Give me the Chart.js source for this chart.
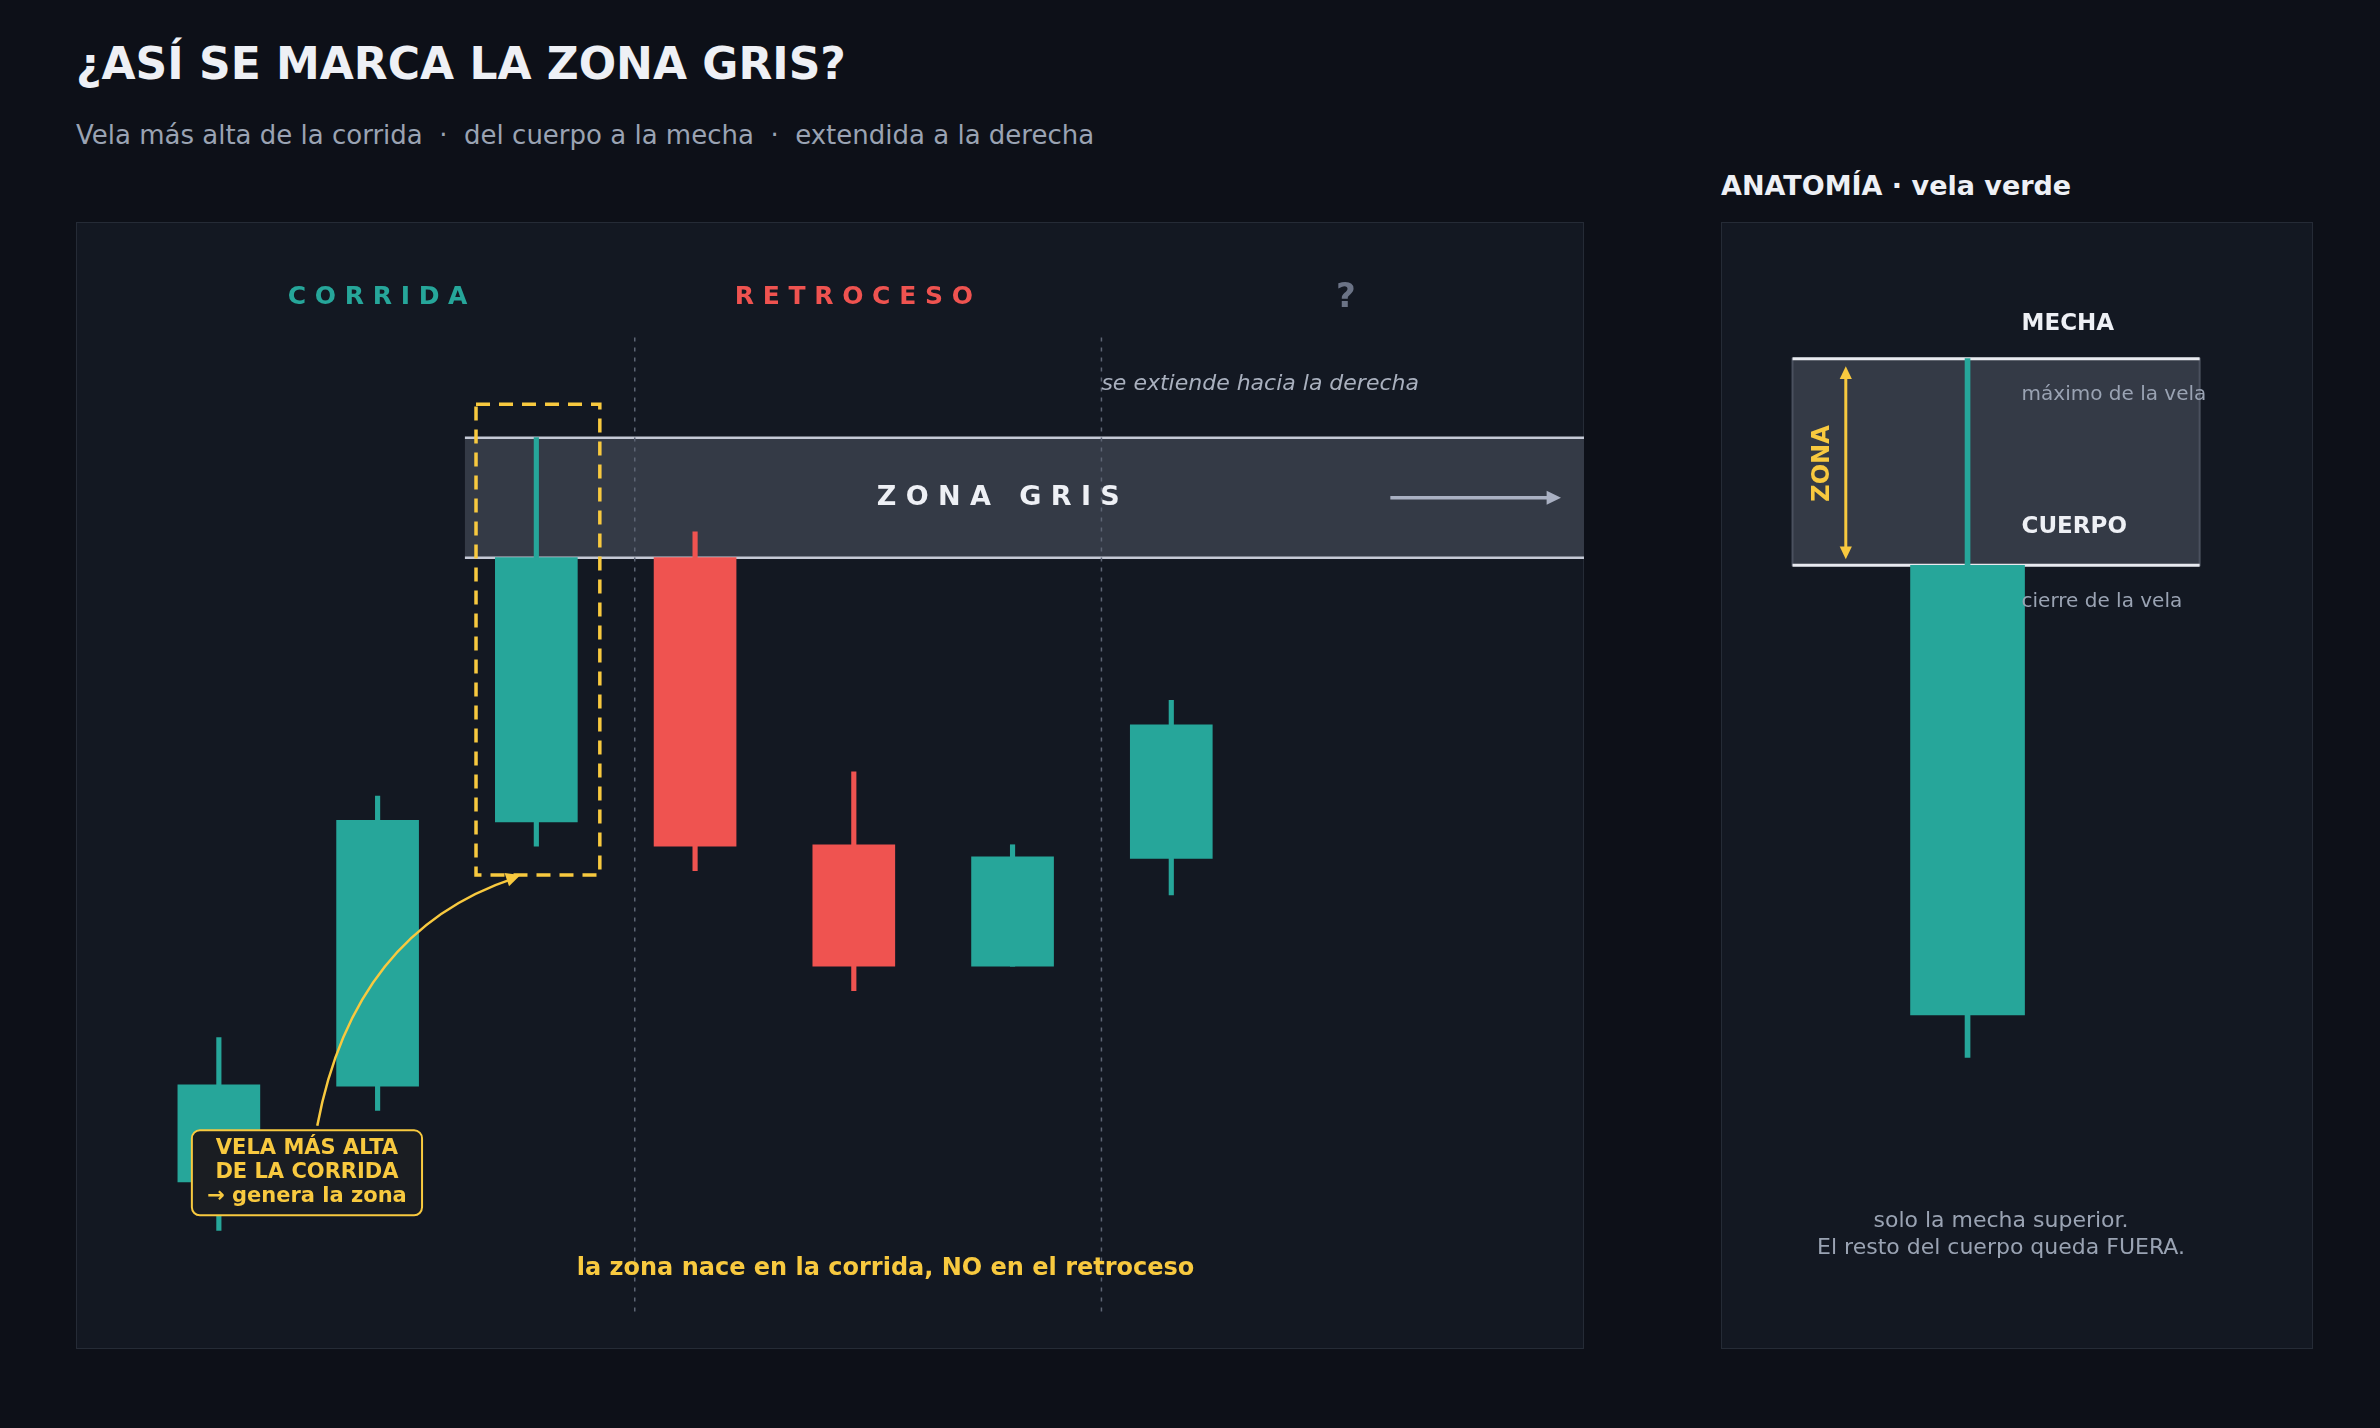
<!DOCTYPE html>
<html><head><meta charset="utf-8">
<script src="https://cdn.jsdelivr.net/npm/chart.js@4"></script>
<style>
  body{margin:0;background:#0d1018;width:2380px;height:1428px;overflow:hidden;font-family:"DejaVu Sans",sans-serif;position:relative}
  .t{position:absolute;white-space:nowrap}
  .panel{position:absolute;background:#131822;border:1.5px solid #252b36;box-sizing:border-box}
  canvas{position:absolute}
</style></head>
<body>
<div class="t" style="left:76px;top:38px;font-size:44px;font-weight:bold;color:#eef0f5">¿ASÍ SE MARCA LA ZONA GRIS?</div>
<div class="t" style="left:76px;top:120px;font-size:26px;color:#9aa3b3">Vela más alta de la corrida &nbsp;·&nbsp; del cuerpo a la mecha &nbsp;·&nbsp; extendida a la derecha</div>
<div class="t" style="left:1721px;top:170px;font-size:27px;font-weight:bold;color:#eef0f5">ANATOMÍA · vela verde</div>
<div class="panel" style="left:76px;top:222px;width:1508px;height:1127px"></div>
<div class="panel" style="left:1721px;top:222px;width:592px;height:1127px"></div>
<canvas id="main" width="1508" height="1127" style="left:76px;top:222px"></canvas>
<canvas id="anat" width="592" height="1127" style="left:1721px;top:222px"></canvas>
<script>
// =========================
// DATA
// =========================
const velas = [0, 1, 2, 3, 4, 5, 6];
const aperturas = [11.0, 17.3, 34.7, 52.1, 33.2, 25.2, 32.3];
const cierres   = [17.4, 34.8, 52.1, 33.1, 25.2, 32.4, 41.1];
const maximos   = [20.5, 36.4, 60.0, 53.8, 38.0, 33.2, 42.7];
const minimos   = [ 7.8, 15.7, 33.1, 31.5, 23.6, 25.2, 29.9];
const zonaGris = [52.1, 60.0];   // cuerpo -> mecha de la vela más alta
const idxAlta = 2;

// vela de anatomía
const anatVela = { x: 0, o: 22.0, c: 51.6, h: 65.2, l: 19.2 };

const TEAL = '#26a69a', RED = '#ef5350', YEL = '#f8c93f';
const colores = cierres.map((c, i) => c >= aperturas[i] ? TEAL : RED);

function arrowHead(ctx, x, y, ang, s) {
  ctx.beginPath();
  ctx.moveTo(x, y);
  ctx.lineTo(x - s * Math.cos(ang - 0.45), y - s * Math.sin(ang - 0.45));
  ctx.lineTo(x - s * Math.cos(ang + 0.45), y - s * Math.sin(ang + 0.45));
  ctx.closePath(); ctx.fill();
}
function txt(ctx, s, x, y, font, color, align) {
  ctx.font = font; ctx.fillStyle = color; ctx.textAlign = align || 'center'; ctx.textBaseline = 'middle';
  ctx.fillText(s, x, y);
}

// =========================
// Plugin: zona + anotaciones
// =========================
const mainDeco = {
  id: 'mainDeco',
  beforeDatasetsDraw(chart) {
    const { ctx, scales: { x, y } } = chart;
    const L = x.getPixelForValue(idxAlta - 0.45), R = x.right;
    const T = y.getPixelForValue(zonaGris[1]), B = y.getPixelForValue(zonaGris[0]);
    ctx.save();
    ctx.fillStyle = '#343a46'; ctx.fillRect(L, T, R - L, B - T);
    ctx.strokeStyle = '#c5c9d6'; ctx.lineWidth = 2.5;
    ctx.beginPath(); ctx.moveTo(L, T); ctx.lineTo(R, T); ctx.moveTo(L, B); ctx.lineTo(R, B); ctx.stroke();
    // separadores
    ctx.strokeStyle = '#5d6474'; ctx.lineWidth = 1.5; ctx.setLineDash([4, 6]);
    [2.62, 5.56].forEach(v => {
      const px = x.getPixelForValue(v);
      ctx.beginPath(); ctx.moveTo(px, y.getPixelForValue(66.6)); ctx.lineTo(px, y.getPixelForValue(2.1)); ctx.stroke();
    });
    ctx.restore();
  },
  afterDatasetsDraw(chart) {
    const { ctx, scales: { x, y } } = chart;
    ctx.save();
    // caja discontinua
    const bl = x.getPixelForValue(idxAlta - 0.38), br = x.getPixelForValue(idxAlta + 0.4);
    const bt = y.getPixelForValue(62.2), bb = y.getPixelForValue(31.2);
    ctx.strokeStyle = YEL; ctx.lineWidth = 3.5; ctx.setLineDash([14, 9]);
    ctx.strokeRect(bl, bt, br - bl, bb - bt);
    ctx.setLineDash([]);
    // títulos de fase
    txt(ctx, 'C O R R I D A', x.getPixelForValue(1), y.getPixelForValue(69.2), 'bold 25px "DejaVu Sans"', TEAL);
    txt(ctx, 'R E T R O C E S O', x.getPixelForValue(4), y.getPixelForValue(69.2), 'bold 25px "DejaVu Sans"', RED);
    txt(ctx, '?', x.getPixelForValue(7.1), y.getPixelForValue(69.2), 'bold 34px "DejaVu Sans"', '#6b7386');
    txt(ctx, 'se extiende hacia la derecha', x.getPixelForValue(6.56), y.getPixelForValue(63.5), 'oblique 22px "DejaVu Sans"', '#a9b0be');
    const zm = y.getPixelForValue((zonaGris[0] + zonaGris[1]) / 2);
    txt(ctx, 'Z O N A   G R I S', x.getPixelForValue(4.91), zm, 'bold 27px "DejaVu Sans"', '#eef0f5');
    const a0 = x.getPixelForValue(7.38), a1 = x.getPixelForValue(8.43);
    ctx.strokeStyle = '#a9b0c2'; ctx.fillStyle = '#a9b0c2'; ctx.lineWidth = 3.5;
    ctx.beginPath(); ctx.moveTo(a0, zm); ctx.lineTo(a1 - 8, zm); ctx.stroke();
    arrowHead(ctx, a1 + 4, zm, 0, 16);
    // flecha curva
    const sx = x.getPixelForValue(0.62), sy = y.getPixelForValue(14.7);
    const ex = x.getPixelForValue(1.9), ey = y.getPixelForValue(31.2);
    const cx = x.getPixelForValue(0.85), cy = y.getPixelForValue(27.5);
    ctx.strokeStyle = YEL; ctx.fillStyle = YEL; ctx.lineWidth = 2.5;
    ctx.beginPath(); ctx.moveTo(sx, sy); ctx.quadraticCurveTo(cx, cy, ex - 6, ey + 3); ctx.stroke();
    arrowHead(ctx, ex, ey, Math.atan2(ey - cy, ex - cx), 16);
    // caja de etiqueta
    const kl = x.getPixelForValue(-0.17), kr = x.getPixelForValue(1.28);
    const kt = y.getPixelForValue(14.4), kb = y.getPixelForValue(8.8);
    ctx.fillStyle = '#1a1d22'; ctx.strokeStyle = YEL; ctx.lineWidth = 2;
    ctx.beginPath(); ctx.roundRect(kl, kt, kr - kl, kb - kt, 8); ctx.fill(); ctx.stroke();
    const km = (kl + kr) / 2, kh = kb - kt;
    txt(ctx, 'VELA MÁS ALTA', km, kt + kh * 0.22, 'bold 21px "DejaVu Sans"', YEL);
    txt(ctx, 'DE LA CORRIDA', km, kt + kh * 0.5, 'bold 21px "DejaVu Sans"', YEL);
    txt(ctx, '→ genera la zona', km, kt + kh * 0.78, 'bold 21px "DejaVu Sans"', YEL);
    txt(ctx, 'la zona nace en la corrida, NO en el retroceso', x.getPixelForValue(4.2), y.getPixelForValue(5.3), 'bold 24px "DejaVu Sans"', YEL);
    ctx.restore();
  }
};

const scaleBase = { display: false, grid: { display: false, offset: false }, offset: false };

new Chart(document.getElementById('main'), {
  type: 'bar',
  data: {
    datasets: [
      { label: 'mecha', data: velas.map(i => ({ x: i, y: [minimos[i], maximos[i]] })), backgroundColor: colores, barThickness: 4.5, grouped: false, order: 2 },
      { label: 'cuerpo', data: velas.map(i => ({ x: i, y: [aperturas[i], cierres[i]] })), backgroundColor: colores, barThickness: 82, grouped: false, order: 1 }
    ]
  },
  options: {
    responsive: false, devicePixelRatio: 1, animation: false,
    layout: { padding: 0 },
    plugins: { legend: { display: false }, tooltip: { enabled: false } },
    scales: {
      x: { ...scaleBase, type: 'linear', min: -0.9, max: 8.6 },
      y: { ...scaleBase, min: 0, max: 74.2 }
    }
  },
  plugins: [mainDeco]
});

// =========================
// Anatomía
// =========================
const anatDeco = {
  id: 'anatDeco',
  beforeDatasetsDraw(chart) {
    const { ctx, scales: { x, y } } = chart;
    const L = x.getPixelForValue(-2.3), R = x.getPixelForValue(3.05);
    const T = y.getPixelForValue(anatVela.h), B = y.getPixelForValue(anatVela.c);
    ctx.save();
    ctx.fillStyle = '#343a46'; ctx.fillRect(L, T, R - L, B - T);
    ctx.strokeStyle = '#4a505e'; ctx.lineWidth = 2; ctx.strokeRect(L, T, R - L, B - T);
    ctx.strokeStyle = '#e8eaf0'; ctx.lineWidth = 3;
    ctx.beginPath(); ctx.moveTo(L, T); ctx.lineTo(R, T); ctx.moveTo(L, B); ctx.lineTo(R, B); ctx.stroke();
    ctx.restore();
  },
  afterDatasetsDraw(chart) {
    const { ctx, scales: { x, y } } = chart;
    ctx.save();
    const lx = x.getPixelForValue(0.71);
    txt(ctx, 'MECHA', lx, y.getPixelForValue(67.5), 'bold 23px "DejaVu Sans"', '#eef0f5', 'left');
    txt(ctx, 'máximo de la vela', lx, y.getPixelForValue(62.8), '20px "DejaVu Sans"', '#9aa3b3', 'left');
    txt(ctx, 'CUERPO', lx, y.getPixelForValue(54.1), 'bold 23px "DejaVu Sans"', '#eef0f5', 'left');
    txt(ctx, 'cierre de la vela', lx, y.getPixelForValue(49.2), '20px "DejaVu Sans"', '#9aa3b3', 'left');
    // flecha doble ZONA
    const ax = x.getPixelForValue(-1.6), at = y.getPixelForValue(64.7), ab = y.getPixelForValue(52.0);
    ctx.strokeStyle = YEL; ctx.fillStyle = YEL; ctx.lineWidth = 3;
    ctx.beginPath(); ctx.moveTo(ax, at + 10); ctx.lineTo(ax, ab - 10); ctx.stroke();
    arrowHead(ctx, ax, at, -Math.PI / 2, 14); arrowHead(ctx, ax, ab, Math.PI / 2, 14);
    ctx.translate(x.getPixelForValue(-1.9), y.getPixelForValue(58.3)); ctx.rotate(-Math.PI / 2);
    txt(ctx, 'ZONA', 0, 0, 'bold 24px "DejaVu Sans"', YEL);
    ctx.setTransform(1, 0, 0, 1, 0, 0);
    txt(ctx, 'solo la mecha superior.', x.getPixelForValue(0.44), y.getPixelForValue(8.4), '22px "DejaVu Sans"', '#9aa3b3');
    txt(ctx, 'El resto del cuerpo queda FUERA.', x.getPixelForValue(0.44), y.getPixelForValue(6.6), '22px "DejaVu Sans"', '#9aa3b3');
    ctx.restore();
  }
};

new Chart(document.getElementById('anat'), {
  type: 'bar',
  data: {
    datasets: [
      { data: [{ x: anatVela.x, y: [anatVela.l, anatVela.h] }], backgroundColor: TEAL, barThickness: 5, grouped: false, order: 2 },
      { data: [{ x: anatVela.x, y: [anatVela.o, anatVela.c] }], backgroundColor: TEAL, barThickness: 114, grouped: false, order: 1 }
    ]
  },
  options: {
    responsive: false, devicePixelRatio: 1, animation: false,
    layout: { padding: 0 },
    plugins: { legend: { display: false }, tooltip: { enabled: false } },
    scales: {
      x: { ...scaleBase, type: 'linear', min: -3.24, max: 4.54 },
      y: { ...scaleBase, min: 0, max: 74.2 }
    }
  },
  plugins: [anatDeco]
});
</script>
</body></html>
